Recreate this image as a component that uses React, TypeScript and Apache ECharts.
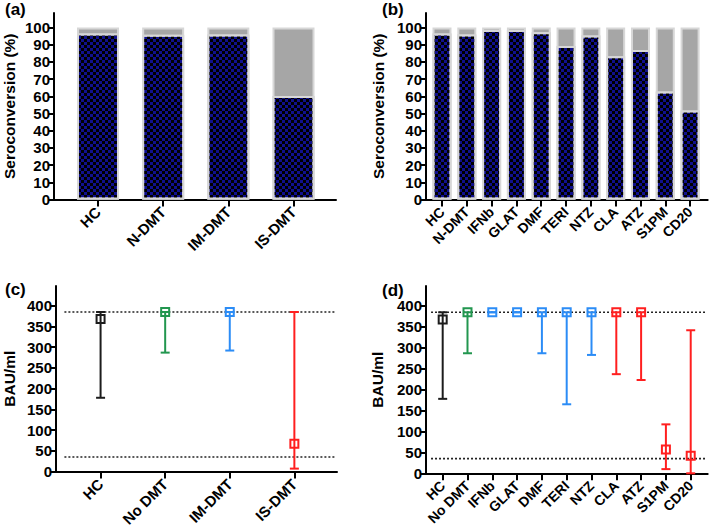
import React, { useEffect, useRef } from "react";
import * as echarts from "echarts";

// ---- data ----
const groupsA = ["HC", "N-DMT", "IM-DMT", "IS-DMT"];
const seroA = [96.6, 95.8, 96.0, 60.2];

const groupsB = ["HC", "N-DMT", "IFNb", "GLAT", "DMF", "TERI", "NTZ", "CLA", "ATZ", "S1PM", "CD20"];
const seroB = [96.6, 96.0, 98.6, 98.6, 97.3, 89.3, 95.4, 83.4, 87.0, 62.8, 51.8];

const groupsC = ["HC", "No DMT", "IM-DMT", "IS-DMT"];
const medianC = [368, 385, 385, 67];
const lowC = [178, 287, 292, 7];
const highC = [385, 385, 385, 385];

const groupsD = ["HC", "No DMT", "IFNb", "GLAT", "DMF", "TERI", "NTZ", "CLA", "ATZ", "S1PM", "CD20"];
const medianD = [368, 385, 385, 385, 385, 385, 385, 385, 385, 57, 42];
const lowD = [178, 287, 385, 385, 287, 165, 283, 237, 223, 10, 0];
const highD = [385, 385, 385, 385, 385, 385, 385, 385, 385, 117, 342];

const totalPct = 100;
const thresholds = [385, 35];
const seroTicks = [0, 10, 20, 30, 40, 50, 60, 70, 80, 90, 100];
const bauTicks = [0, 50, 100, 150, 200, 250, 300, 350, 400];

// ---- styles ----
const BLACK = "#1c1c1c";
const GREEN = "#22964f";
const BLUE = "#2b8cf6";
const RED = "#ff1f1f";
const colorsC = [BLACK, GREEN, BLUE, RED];
const colorsD = [BLACK, GREEN, BLUE, BLUE, BLUE, BLUE, BLUE, RED, RED, RED, RED];

const FONT = "'Liberation Sans', Arial, sans-serif";
const NAVY = "#10108e";
const GRAY = "#a6a6a6";
const EDGE = "#d7d7d7";

const checker = {
  symbol: "rect",
  symbolSize: 1,
  color: "#000000",
  dashArrayX: [[3, 3], [0, 3, 3, 0]],
  dashArrayY: [3, 0],
  rotation: 0,
};

const axisLine = { show: true, onZero: false, lineStyle: { color: "#000", width: 2 } };

function xAxisFor(gridIndex: number, cats: string[], min: number, max: number, fs: number) {
  const idx = cats.map((_, i) => i);
  return {
    type: "value",
    gridIndex,
    min,
    max,
    axisLine,
    splitLine: { show: false },
    axisTick: { show: true, length: 7, customValues: idx, lineStyle: { color: "#000", width: 2 } },
    axisLabel: {
      customValues: idx,
      formatter: (v: number) => cats[Math.round(v)] ?? "",
      rotate: 45,
      margin: 10,
      color: "#000",
      fontFamily: FONT,
      fontWeight: "bold",
      fontSize: fs,
    },
  };
}

function yAxisFor(gridIndex: number, name: string, max: number, ticks: number[], gap: number) {
  return {
    type: "value",
    gridIndex,
    min: 0,
    max,
    name,
    nameLocation: "middle",
    nameGap: gap,
    nameTextStyle: { color: "#000", fontFamily: FONT, fontWeight: "bold", fontSize: 15.5 },
    axisLine,
    splitLine: { show: false },
    axisTick: { show: true, length: 6, customValues: ticks, lineStyle: { color: "#000", width: 2 } },
    axisLabel: {
      customValues: ticks,
      margin: 4,
      color: "#000",
      fontFamily: FONT,
      fontWeight: "bold",
      fontSize: 15,
    },
  };
}

function barSeries(axisIdx: number, values: number[], width: number) {
  return [
    {
      type: "bar",
      xAxisIndex: axisIdx,
      yAxisIndex: axisIdx,
      barWidth: width,
      barGap: "-100%",
      z: 2,
      data: values.map((_, i) => [i, totalPct]),
      itemStyle: { color: GRAY, borderColor: EDGE, borderWidth: 2 },
    },
    {
      type: "bar",
      xAxisIndex: axisIdx,
      yAxisIndex: axisIdx,
      barWidth: width,
      barGap: "-100%",
      z: 3,
      data: values.map((v, i) => [i, v]),
      itemStyle: { color: NAVY, borderColor: EDGE, borderWidth: 2, decal: checker },
    },
  ];
}

function rangeSeries(axisIdx: number, med: number[], lo: number[], hi: number[], colors: string[], capW: number, sq: number) {
  return {
    type: "custom",
    xAxisIndex: axisIdx,
    yAxisIndex: axisIdx,
    encode: { x: 0, y: [1, 2, 3] },
    data: med.map((m, i) => [i, m, lo[i], hi[i]]),
    z: 5,
    renderItem: (params: any, api: any) => {
      const x = api.value(0);
      const pM = api.coord([x, api.value(1)]);
      const pL = api.coord([x, api.value(2)]);
      const pH = api.coord([x, api.value(3)]);
      const c = colors[params.dataIndex];
      const st = { stroke: c, lineWidth: 2, fill: "none" };
      const h = capW / 2;
      const s = sq / 2;
      return {
        type: "group",
        children: [
          { type: "line", shape: { x1: pL[0], y1: pL[1], x2: pH[0], y2: pH[1] }, style: st },
          { type: "line", shape: { x1: pL[0] - h, y1: pL[1], x2: pL[0] + h, y2: pL[1] }, style: st },
          { type: "line", shape: { x1: pH[0] - h, y1: pH[1], x2: pH[0] + h, y2: pH[1] }, style: st },
          { type: "rect", shape: { x: pM[0] - s, y: pM[1] - s, width: sq, height: sq }, style: st },
        ],
      };
    },
  };
}

function thresholdSeries(axisIdx: number, x0: number, x1: number) {
  return thresholds.map((t) => ({
    type: "line",
    xAxisIndex: axisIdx,
    yAxisIndex: axisIdx,
    showSymbol: false,
    symbol: "none",
    silent: true,
    z: 1,
    data: [
      [x0, t],
      [x1, t],
    ],
    lineStyle: { color: "#222", width: 1.6, type: [2, 2] },
  }));
}

const panelTitle = (text: string, left: number, top: number) => ({
  text,
  left,
  top,
  padding: 0,
  textStyle: { color: "#000", fontFamily: FONT, fontWeight: "bold", fontSize: 17 },
});

export default function App() {
  const ref = useRef<HTMLDivElement>(null);
  useEffect(() => {
    if (!ref.current) return;
    const chart = echarts.init(ref.current, null, { renderer: "svg" });
    chart.setOption({
      animation: false,
      backgroundColor: "#fff",
      title: [
        panelTitle("(a)", 5, 1),
        panelTitle("(b)", 382, 1),
        panelTitle("(c)", 5, 281),
        panelTitle("(d)", 382, 282),
      ],
      grid: [
        { left: 54, top: 13, width: 282, height: 186.5 },
        { left: 426, top: 13, width: 281.7, height: 186.5 },
        { left: 54, top: 286, width: 283, height: 187.3 },
        { left: 426, top: 286, width: 281.7, height: 187.3 },
      ],
      xAxis: [
        xAxisFor(0, groupsA, -0.675, 3.652, 15),
        xAxisFor(1, groupsB, -0.645, 10.71, 14),
        xAxisFor(2, groupsC, -0.69, 3.66, 15),
        xAxisFor(3, groupsD, -0.673, 10.685, 14),
      ],
      yAxis: [
        yAxisFor(0, "Seroconversion (%)", 108.5, seroTicks, 37),
        yAxisFor(1, "Seroconversion (%)", 108.5, seroTicks, 40),
        yAxisFor(2, "BAU/ml", 447.8, bauTicks, 39),
        yAxisFor(3, "BAU/ml", 447.8, bauTicks, 41),
      ],
      series: [
        ...barSeries(0, seroA, 42),
        ...barSeries(1, seroB, 19),
        ...thresholdSeries(2, -0.56, 3.63),
        rangeSeries(2, medianC, lowC, highC, colorsC, 9, 8),
        ...thresholdSeries(3, -0.47, 10.62),
        rangeSeries(3, medianD, lowD, highD, colorsD, 9, 8),
      ],
    });
    return () => chart.dispose();
  }, []);
  return (
    <div
      ref={ref}
      style={{ position: "fixed", left: 0, top: 0, width: 709, height: 529 }}
    />
  );
}
